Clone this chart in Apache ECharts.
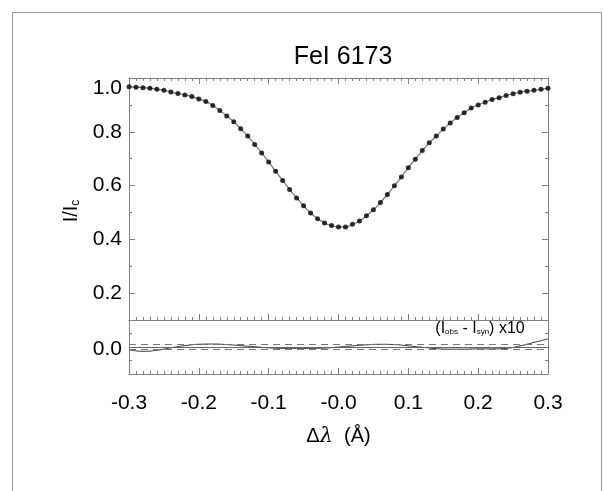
<!DOCTYPE html>
<html>
<head>
<meta charset="utf-8">
<script src="https://cdn.jsdelivr.net/npm/echarts@6/dist/echarts.min.js"></script>
<style>
html,body{margin:0;padding:0;background:#fff;}
#chart{width:603px;height:491px;}
</style>
</head>
<body>
<div id="chart"></div>
<script>
// ---- data ----
const wavelength = [-0.30,-0.29,-0.28,-0.27,-0.26,-0.25,-0.24,-0.23,-0.22,-0.21,
  -0.20,-0.19,-0.18,-0.17,-0.16,-0.15,-0.14,-0.13,-0.12,-0.11,
  -0.10,-0.09,-0.08,-0.07,-0.06,-0.05,-0.04,-0.03,-0.02,-0.01,
  0.00,0.01,0.02,0.03,0.04,0.05,0.06,0.07,0.08,0.09,
  0.10,0.11,0.12,0.13,0.14,0.15,0.16,0.17,0.18,0.19,
  0.20,0.21,0.22,0.23,0.24,0.25,0.26,0.27,0.28,0.29,0.30];
const intensityObs = [0.967,0.966,0.964,0.962,0.958,0.954,0.948,0.942,0.937,0.931,
  0.922,0.913,0.898,0.879,0.859,0.837,0.811,0.784,0.753,0.721,
  0.688,0.653,0.619,0.585,0.554,0.525,0.498,0.477,0.461,0.451,
  0.446,0.446,0.456,0.468,0.488,0.510,0.537,0.567,0.599,0.632,
  0.666,0.698,0.730,0.759,0.784,0.810,0.833,0.853,0.871,0.888,
  0.900,0.910,0.920,0.927,0.935,0.941,0.947,0.951,0.954,0.958,0.962];
const intensitySyn = intensityObs.slice();
const residualX = [-0.30,-0.28,-0.26,-0.24,-0.22,-0.20,-0.18,-0.16,-0.14,-0.12,
  -0.10,-0.08,-0.06,-0.04,-0.02,0.00,0.02,0.04,0.06,0.08,
  0.10,0.12,0.14,0.16,0.18,0.20,0.22,0.24,0.26,0.28,0.30];
const residualX10 = [-0.010,-0.016,-0.012,-0.003,0.005,0.010,0.011,0.009,0.005,0.001,
  -0.003,-0.005,-0.005,-0.005,-0.004,0.000,0.004,0.008,0.010,0.009,
  0.004,-0.001,-0.006,-0.008,-0.008,-0.007,-0.007,-0.005,0.004,0.017,0.030];
const noiseLevel = 0.011;
const xTickLabels = ['-0.3','-0.2','-0.1','-0.0','0.1','0.2','0.3'];
const yMajorTop = [0.2,0.4,0.6,0.8,1.0];
const yMinorTop = [0.1,0.3,0.5,0.7,0.9];
const yMajorBottom = [0.0];
const yMinorBottom = [-0.05,0.05];

// ---- chart ----
const FONT = '"Liberation Sans", Arial, Helvetica, sans-serif';
const AX = '#808080';
const LBL = 21;
const chart = echarts.init(document.getElementById('chart'), null, {renderer:'canvas'});

function xAx(grid, pos, opts) {
  return Object.assign({
    type:'value', gridIndex:grid, position:pos, min:-0.3, max:0.3, interval:0.1,
    axisLine:{show:true, onZero:false, lineStyle:{color:AX, width:1}},
    axisTick:{show:true, inside:true, length:6, lineStyle:{color:AX}},
    minorTick:{show:true, splitNumber:10, length:3, lineStyle:{color:AX}},
    axisLabel:{show:false}, splitLine:{show:false}, minorSplitLine:{show:false}
  }, opts||{});
}
function yAx(grid, pos, min, max, ticks, len, labels, extra) {
  return Object.assign({
    type:'value', gridIndex:grid, position:pos, min:min, max:max,
    axisLine:{show:true, onZero:false, lineStyle:{color:AX, width:1}},
    axisTick:{show:true, inside:true, length:len, customValues:ticks, lineStyle:{color:AX}},
    axisLabel: labels ? labels : {show:false},
    splitLine:{show:false}
  }, extra||{});
}

const labelStyle = {fontFamily:FONT, fontSize:LBL, color:'#000'};

const option = {
  animation:false,
  backgroundColor:'#fff',
  title:{
    text:'FeI 6173', left:338, top:40, textAlign:'center',
    textStyle:{fontFamily:FONT, fontSize:25, fontWeight:'normal', color:'#000'}
  },
  grid:[
    {left:129, top:78, width:419, height:242, containLabel:false},
    {left:129, top:320, width:419, height:54, containLabel:false}
  ],
  xAxis:[
    xAx(0,'bottom'),
    xAx(0,'top'),
    xAx(1,'bottom',{
      axisLabel:Object.assign({show:true, margin:19,
        formatter:function(v){return xTickLabels[Math.round((v+0.3)/0.1)];}}, labelStyle),
      name:'{d|Δ}{l|λ}  (Å)', nameLocation:'middle', nameGap:52,
      nameTextStyle:{fontFamily:FONT, fontSize:20, color:'#000',
        rich:{d:{fontFamily:FONT, fontSize:20, color:'#000'},
              l:{fontFamily:'"DejaVu Serif", serif', fontStyle:'italic', fontSize:21, color:'#000'}}}
    }),
    xAx(1,'top',{axisTick:{show:false}, minorTick:{show:false}})
  ],
  yAxis:[
    yAx(0,'left',0.1,1.0,yMajorTop,6,Object.assign({show:true, margin:7, customValues:yMajorTop,
      formatter:function(v){ return Math.abs(v-1)<1e-6 ? '{t|1.0}' : v.toFixed(1); },
      rich:{t:{fontFamily:FONT, fontSize:LBL, color:'#000', padding:[20,0,0,0]}}}, labelStyle)),
    yAx(0,'left',0.1,1.0,yMinorTop,3,null),
    yAx(0,'right',0.1,1.0,yMajorTop,6,null),
    yAx(0,'right',0.1,1.0,yMinorTop,3,null),
    yAx(1,'left',-0.1,0.1,yMajorBottom,6,Object.assign({show:true, margin:7, customValues:yMajorBottom,
      formatter:function(v){ return '{z|' + Math.abs(v).toFixed(1) + '}'; },
      rich:{z:{fontFamily:FONT, fontSize:LBL, color:'#000', padding:[4,0,0,0]}}}, labelStyle)),
    yAx(1,'left',-0.1,0.1,yMinorBottom,3,null),
    yAx(1,'right',-0.1,0.1,yMajorBottom,6,null),
    yAx(1,'right',-0.1,0.1,yMinorBottom,3,null)
  ],
  series:[
    {
      type:'line', name:'synthetic', xAxisIndex:0, yAxisIndex:0,
      data: wavelength.map(function(x,i){return [x, intensitySyn[i]];}),
      showSymbol:false, smooth:true, lineStyle:{color:'#777', width:1.2}, z:2
    },
    {
      type:'scatter', name:'observed', xAxisIndex:0, yAxisIndex:0,
      data: wavelength.map(function(x,i){return [x, intensityObs[i]];}),
      symbol:'circle', symbolSize:5, itemStyle:{color:'#000'}, z:3
    },
    {
      type:'line', name:'residual', xAxisIndex:2, yAxisIndex:4,
      data: residualX.map(function(x,i){return [x, residualX10[i]];}),
      showSymbol:false, smooth:true, lineStyle:{color:'#333', width:1},
      markLine:{
        silent:true, symbol:['none','none'], label:{show:false}, animation:false,
        data:[
          {yAxis:noiseLevel, lineStyle:{type:[7,5], color:'#777', width:1}},
          {yAxis:-noiseLevel, lineStyle:{type:[7,5], color:'#777', width:1}},
          {yAxis:0, lineStyle:{type:'solid', color:'#666', width:1}}
        ]
      }
    }
  ],
  graphic:[
    {type:'rect', shape:{x:12.5, y:12.5, width:589, height:520},
     style:{fill:'none', stroke:'#999', lineWidth:1}, silent:true, z:-10},
    {type:'text', x:71, y:211, rotation:Math.PI/2,
     style:{text:'I/I{s|c}', fontFamily:FONT, fontSize:20, fill:'#000', align:'center', verticalAlign:'middle',
       rich:{s:{fontFamily:FONT, fontSize:12, fill:'#000', padding:[9,0,0,0]}}}},
    {type:'text', x:480, y:329,
     style:{text:'(I{s|obs} - I{s|syn}) x10', fontFamily:FONT, fontSize:16, fill:'#000', align:'center', verticalAlign:'middle',
       rich:{s:{fontFamily:FONT, fontSize:8, fill:'#000', padding:[6,0,0,0]}}}}
  ]
};
chart.setOption(option);
</script>
</body>
</html>
